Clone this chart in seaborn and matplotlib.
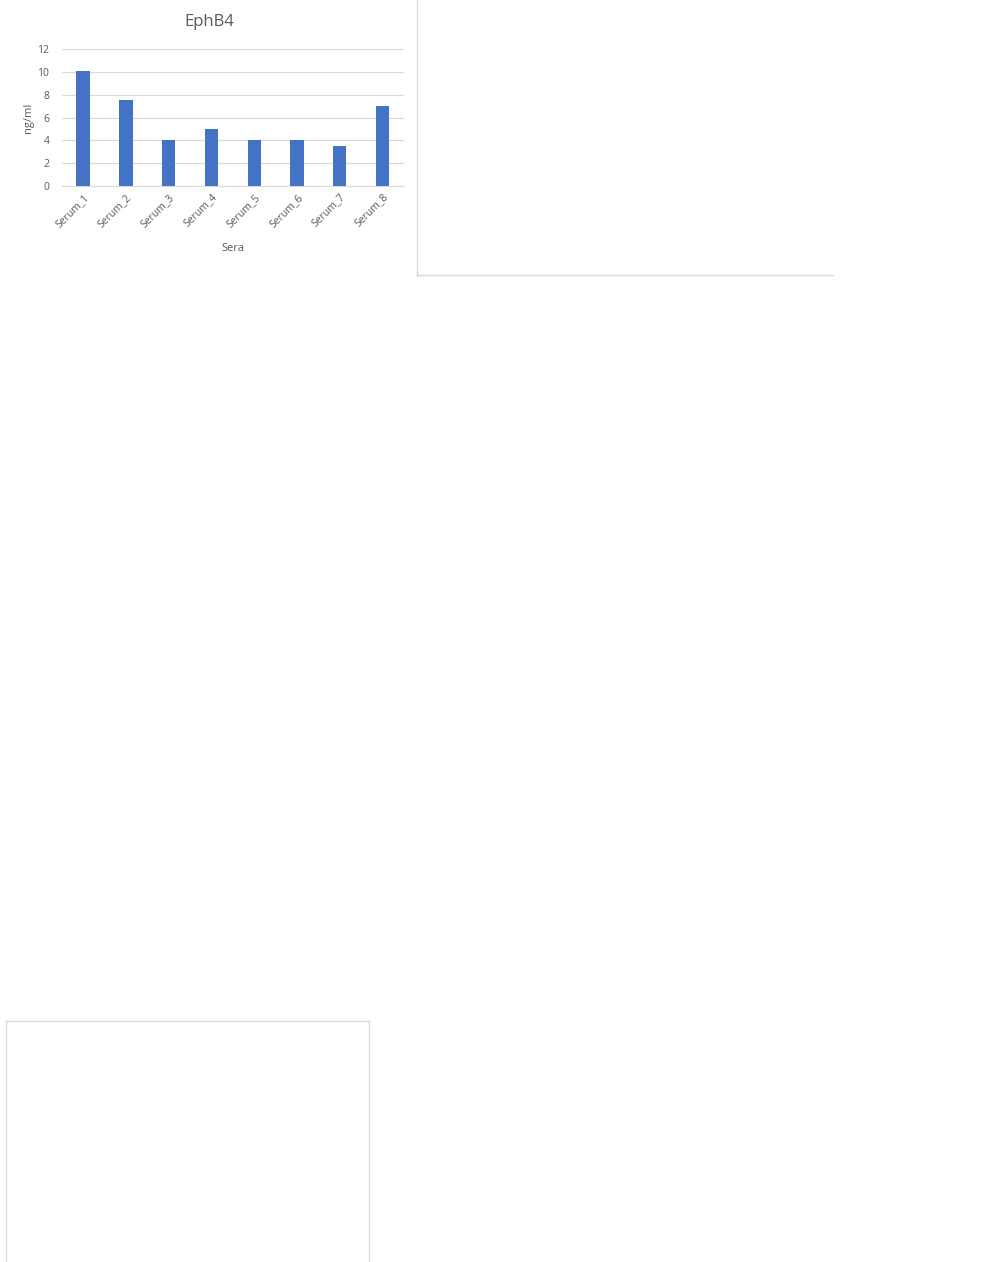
import numpy as np
import pandas as pd
import matplotlib
matplotlib.use("Agg")
import matplotlib.pyplot as plt
import seaborn as sns

# -------------------------
# DATA
# -------------------------
sera = ["Serum_1", "Serum_2", "Serum_3", "Serum_4", "Serum_5", "Serum_6", "Serum_7", "Serum_8"]
ephb4_ng_ml = [10.1, 7.55, 4.0, 5.0, 4.0, 4.0, 3.5, 7.0]
y_ticks = [0, 2, 4, 6, 8, 10, 12]

df = pd.DataFrame({"Sera": sera, "ng/ml": ephb4_ng_ml})

# -------------------------
# STYLE
# -------------------------
sns.set_theme(style="white")
plt.rcParams['font.family'] = ['Open Sans', 'DejaVu Sans']

BAR_COLOR = "#4472C4"
GRID_COLOR = "#d9d9d9"
TEXT_COLOR = "#595959"

W, H = 1008, 1262
fig = plt.figure(figsize=(W / 100, H / 100), dpi=100)


def px_axes(left, top, right, bottom):
    """Axes from pixel box (top-left origin)."""
    return fig.add_axes([left / W, 1 - bottom / H, (right - left) / W, (bottom - top) / H])


# -------------------------
# MAIN CHART
# -------------------------
ax = px_axes(61.7, 49.3, 404, 186)
sns.barplot(data=df, x="Sera", y="ng/ml", color=BAR_COLOR, width=0.31,
            saturation=1, linewidth=0, ax=ax)
ax.set_xlim(-0.5, len(sera) - 0.5)
ax.set_ylim(0, 12)
ax.set_yticks(y_ticks)
ax.yaxis.grid(True, color=GRID_COLOR, linewidth=0.8)
ax.set_axisbelow(True)
for side in ["top", "right", "left"]:
    ax.spines[side].set_visible(False)
ax.spines["bottom"].set_color(GRID_COLOR)
ax.spines["bottom"].set_linewidth(0.8)
ax.tick_params(axis="both", length=0, labelsize=7.5, labelcolor=TEXT_COLOR, pad=9)
ax.tick_params(axis="x", pad=4)
for lbl in ax.get_xticklabels():
    lbl.set_rotation(45)
    lbl.set_ha("right")
    lbl.set_rotation_mode("anchor")
ax.set_xlabel("Sera", fontsize=8, color=TEXT_COLOR, labelpad=10)
ax.set_ylabel("ng/ml", fontsize=8, color=TEXT_COLOR, labelpad=2)

# chart title is centred on the whole chart box, not just the plot area
fig.text(209 / W, 1 - 22.5 / H, "EphB4", fontsize=12, color=TEXT_COLOR,
         ha="center", va="center")

# -------------------------
# EMPTY FRAMES (other chart boxes in the sheet)
# -------------------------
fig.add_artist(plt.Line2D([417 / W, 417 / W], [1, 1 - 276 / H],
                          color=GRID_COLOR, linewidth=1))
fig.add_artist(plt.Line2D([417 / W, 833 / W], [1 - 274.5 / H, 1 - 274.5 / H],
                          color=GRID_COLOR, linewidth=1))

box = px_axes(5.5, 1020.5, 368.5, 1262)
box.set_xticks([])
box.set_yticks([])
for side in ["top", "left", "right"]:
    box.spines[side].set_color(GRID_COLOR)
    box.spines[side].set_linewidth(1)
box.spines["bottom"].set_visible(False)

fig.savefig("out.png", dpi=100)
